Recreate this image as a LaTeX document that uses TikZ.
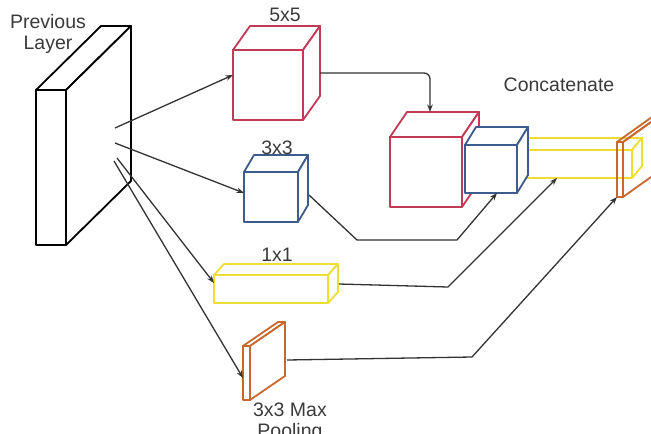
\documentclass[tikz,border=0pt]{standalone}
\usepackage{fontspec}
\setmainfont{Liberation Sans}
\usetikzlibrary{arrows.meta}

\definecolor{cred}{HTML}{C23A55}
\definecolor{cblue}{HTML}{3D5B8C}
\definecolor{cyel}{HTML}{EEDD33}
\definecolor{corg}{HTML}{C8682E}
\definecolor{cline}{HTML}{333333}
\definecolor{ctext}{HTML}{3A3A3A}

\tikzset{
  face/.style={line width=1.8pt, line join=round, fill=white},
  frontface/.style={face, draw=#1, rectangle, inner sep=0pt, outer sep=0pt},
  conn/.style={draw=cline, line width=1.3pt, line join=round,
    -{Stealth[length=7.5pt,width=5.5pt]}},
  lbl/.style={text=ctext, font=\fontsize{19.5}{20.5}\selectfont, align=center},
}

% \drawcuboid[extra]{name}{colour}{cx}{cy}{width}{height}{dx}{dy}
% front face is a node; top and side faces are added behind it in depth
\newcommand\drawcuboid[9][]{%
  \node[frontface=#3, minimum width=#6pt, minimum height=#7pt, #1] (#2) at (#4,#5) {};
  \draw[face, draw=#3, #1] (#2.north west) -- ++(#8,-#9) -- ++(#6,0) -- (#2.north east) -- cycle;
  \draw[face, draw=#3, #1] (#2.north east) -- ++(#8,-#9) -- ++(0,#7) -- (#2.south east) -- cycle;
}

\begin{document}
\begin{tikzpicture}[x=1pt,y=-1pt]
\useasboundingbox (0,0) rectangle (651,434);

% input slab
\drawcuboid{prev}{black}{51}{167.5}{30}{155}{65}{64}
\node[lbl] (prevlbl) at (48,34) {Previous\\Layer};

% branch outputs
\drawcuboid{c5}{cred}{268}{85}{70}{70}{17}{24}
\node[lbl] (c5lbl) at (285,15) {5x5};

\drawcuboid{c3}{cblue}{271}{197}{54}{50}{10}{17}
\node[lbl] (c3lbl) at (277,148) {3x3};

\drawcuboid{b1}{cyel}{271}{289}{114}{28}{10}{11}
\node[lbl] (b1lbl) at (277,255) {1x1};

\drawcuboid{pool}{corg}{246.5}{373}{7}{54}{35}{24}
\node[lbl] (poollbl) at (290,422) {3x3 Max\\Pooling};

% concatenated stack
\drawcuboid{sr}{cred}{426}{172}{72}{70}{17}{25}
\drawcuboid{sy}{cyel}{575}{164}{114}{28}{10}{12}
\drawcuboid{sb}{cblue}{491}{169}{52}{48}{11}{18}
\drawcuboid[fill=none]{so}{corg}{620}{169.5}{6}{55}{35}{25}
\node[lbl] (catlbl) at (559,85) {Concatenate};

% branches leaving the input
\coordinate (s1) at (115,128);
\coordinate (s2) at (115,143);
\coordinate (s3) at (117,158);
\coordinate (s4) at (114,161);
\draw[conn] (s1) -- ([yshift=10pt]c5.west);
\draw[conn] (s2) -- ([yshift=4pt]c3.west);
\draw[conn] (s3) -- ([yshift=6pt]b1.west);
\draw[conn] (s4) -- ([yshift=-5pt]pool.west);

% branches joining the stack
\draw[conn, rounded corners=6pt] ([xshift=17pt,yshift=12pt]c5.east) -| ([xshift=4pt,yshift=25pt]sr.north);
\draw[conn] ([xshift=11pt,yshift=2pt]c3.east) -- ++(48,45) -- ++(100,0) -- ([xshift=6pt]sb.south);
\draw[conn] ([xshift=11pt,yshift=5pt]b1.east) -- ++(109,3) -- ([xshift=-18pt]sy.south);
\draw[conn] ([xshift=37pt,yshift=13pt]pool.east) -- ++(185,-3) -- ([xshift=-3pt]so.south);
\end{tikzpicture}
\end{document}
